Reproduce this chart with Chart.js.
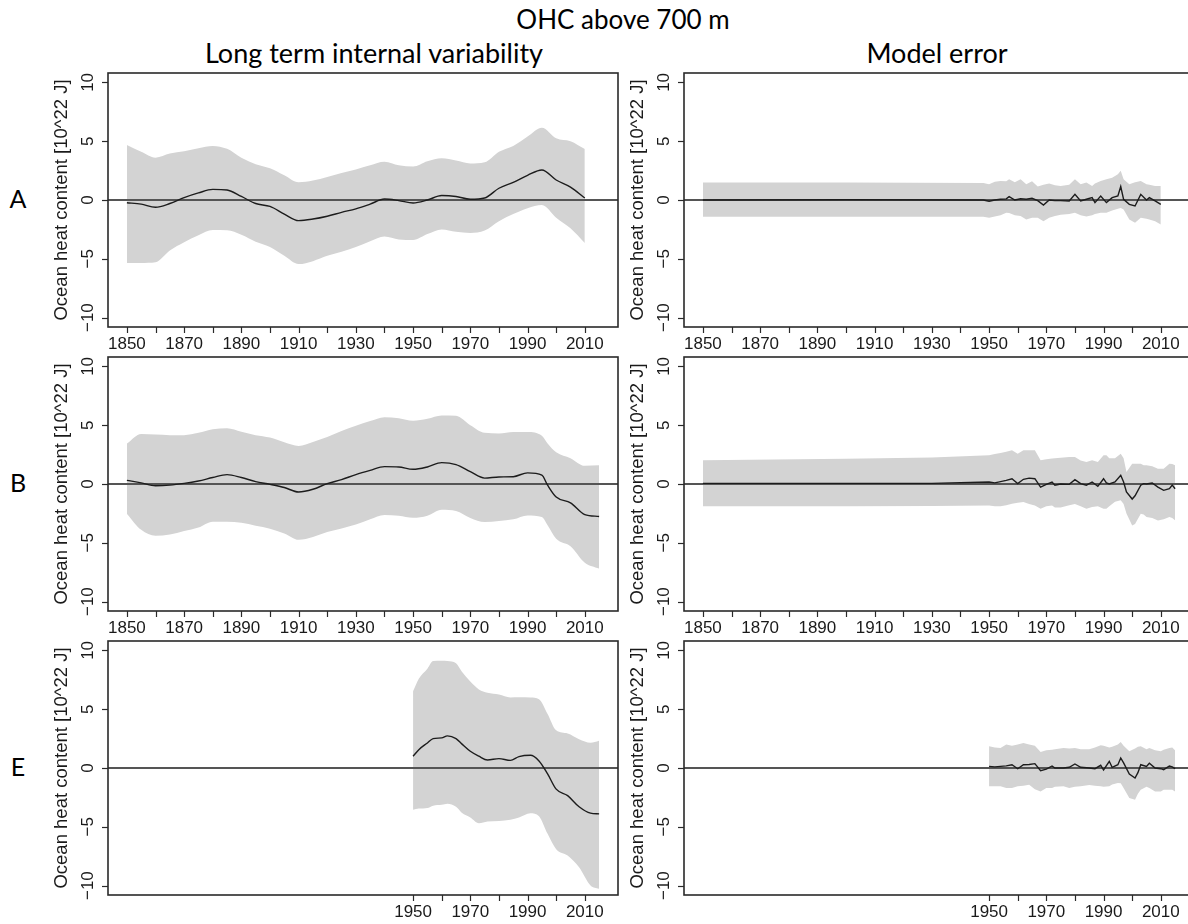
<!DOCTYPE html>
<html lang="en">
<head>
<meta charset="UTF-8">
<title>OHC above 700 m</title>
<script src="https://cdn.jsdelivr.net/npm/chart.js"></script>
<style>
    body {
        margin: 0;
        width: 1188px;
        height: 924px;
        overflow: hidden;
        position: relative;
        background: #fff;
        font-family: Lato, sans-serif;
    }
    .panel { position: absolute; }
    .txt { position: absolute; line-height: 1; white-space: nowrap; color: #000; }
</style>
</head>
<body>
<div class="txt" style="left:623px; top:6px; font-size:26px; transform:translateX(-50%)">OHC above 700 m</div>
<div class="txt" style="left:374px; top:39px; font-size:27px; transform:translateX(-50%)">Long term internal variability</div>
<div class="txt" style="left:937px; top:39px; font-size:27px; transform:translateX(-50%)">Model error</div>
<div class="txt" style="left:18px; top:186px; font-size:25px; transform:translateX(-50%)">A</div>
<div class="txt" style="left:18px; top:470px; font-size:25px; transform:translateX(-50%)">B</div>
<div class="txt" style="left:18px; top:754px; font-size:25px; transform:translateX(-50%)">E</div>

<div class="panel" style="left:0; top:61px; width:624px; height:294px"><canvas id="aLeft"></canvas></div>
<div class="panel" style="left:624px; top:61px; width:576px; height:294px"><canvas id="aRight"></canvas></div>
<div class="panel" style="left:0; top:345px; width:624px; height:294px"><canvas id="bLeft"></canvas></div>
<div class="panel" style="left:624px; top:345px; width:576px; height:294px"><canvas id="bRight"></canvas></div>
<div class="panel" style="left:0; top:629px; width:624px; height:294px"><canvas id="eLeft"></canvas></div>
<div class="panel" style="left:624px; top:629px; width:576px; height:294px"><canvas id="eRight"></canvas></div>

<script>
    // axis ticks
    const fullTicks = [1850, 1860, 1870, 1880, 1890, 1900, 1910, 1920, 1930, 1940, 1950, 1960, 1970, 1980, 1990, 2000, 2010];
    const fullLabels = [1850, 1870, 1890, 1910, 1930, 1950, 1970, 1990, 2010];
    const lateTicks = [1950, 1960, 1970, 1980, 1990, 2000, 2010];
    const lateLabels = [1950, 1970, 1990, 2010];
    const yTicks = [-10, -5, 0, 5, 10];
    const yTitle = 'Ocean heat content [10^22 J]';

    // A - long term internal variability
    const aLeftYears = [1850, 1855, 1860, 1865, 1870, 1875, 1880, 1885, 1890, 1895, 1900, 1905, 1910, 1915, 1920, 1925, 1930,
        1935, 1940, 1945, 1950, 1955, 1960, 1965, 1970, 1975, 1980, 1985, 1990, 1995, 2000, 2005, 2010];
    const aLeftMid = [-0.23, -0.35, -0.62, -0.3, 0.2, 0.6, 0.9, 0.85, 0.3, -0.3, -0.55, -1.2, -1.75, -1.62, -1.38, -1.05, -0.75,
        -0.35, 0.08, -0.05, -0.25, 0.0, 0.38, 0.3, 0.06, 0.17, 1.0, 1.5, 2.1, 2.55, 1.7, 1.1, 0.17];
    const aLeftUp = [4.67, 4.1, 3.6, 3.95, 4.15, 4.4, 4.6, 4.35, 3.6, 3.05, 2.7, 2.1, 1.5, 1.65, 1.95, 2.3, 2.6,
        2.95, 3.25, 2.95, 2.85, 3.3, 3.55, 3.35, 3.1, 3.2, 4.1, 4.6, 5.4, 6.15, 5.25, 5.0, 4.33];
    const aLeftLo = [-5.36, -5.36, -5.3, -4.3, -3.6, -3.0, -2.56, -2.58, -2.95, -3.55, -4.0, -4.75, -5.45, -5.2, -4.75, -4.4, -4.0,
        -3.5, -3.1, -3.35, -3.4, -2.9, -2.5, -2.7, -2.8, -2.6, -1.8, -1.2, -0.7, -0.43, -1.5, -2.4, -3.65];

    // B - long term internal variability
    const bLeftYears = [1850, 1855, 1860, 1865, 1870, 1875, 1880, 1885, 1890, 1895, 1900, 1905, 1910, 1915, 1920, 1925, 1930,
        1935, 1940, 1945, 1950, 1955, 1960, 1965, 1970, 1975, 1980, 1985, 1990, 1995, 1997, 2000, 2005, 2010, 2015];
    const bLeftMid = [0.31, 0.1, -0.15, -0.1, 0.05, 0.26, 0.55, 0.8, 0.55, 0.2, -0.03, -0.3, -0.68, -0.45, 0.03, 0.37, 0.8,
        1.16, 1.48, 1.45, 1.25, 1.45, 1.82, 1.65, 1.05, 0.5, 0.6, 0.62, 0.95, 0.75, -0.1, -1.11, -1.6, -2.6, -2.76];
    const bLeftUp = [3.44, 4.25, 4.2, 4.15, 4.15, 4.35, 4.65, 4.75, 4.45, 4.15, 3.95, 3.55, 3.24, 3.58, 4.0, 4.5, 4.95,
        5.35, 5.68, 5.6, 5.38, 5.55, 5.83, 5.8, 5.0, 4.35, 4.3, 4.42, 4.43, 4.1, 3.45, 2.7, 2.2, 1.55, 1.6];
    const bLeftLo = [-2.53, -3.9, -4.4, -4.3, -4.0, -3.7, -3.2, -3.2, -3.3, -3.55, -3.8, -4.2, -4.74, -4.5, -4.09, -3.78, -3.45,
        -3.0, -2.64, -2.7, -2.88, -2.7, -2.2, -2.3, -2.9, -3.24, -3.15, -3.0, -2.67, -2.8, -3.5, -4.66, -5.3, -6.7, -7.2];

    // E - long term internal variability
    const eLeftYears = [1950, 1952, 1955, 1957, 1960, 1962, 1965, 1967, 1970, 1973, 1976, 1980, 1984, 1987, 1991, 1994,
        1997, 2000, 2004, 2008, 2012, 2015];
    const eLeftMid = [1.0, 1.56, 2.13, 2.5, 2.56, 2.73, 2.5, 2.05, 1.42, 1.0, 0.68, 0.8, 0.65, 0.97, 1.08, 0.6,
        -0.5, -1.8, -2.35, -3.3, -3.84, -3.9];
    const eLeftUp = [6.53, 7.6, 8.45, 9.09, 9.12, 9.09, 8.9, 8.2, 7.35, 6.68, 6.4, 6.25, 6.0, 6.02, 6.0, 5.85,
        4.6, 3.2, 2.93, 2.45, 2.15, 2.33];
    const eLeftLo = [-3.55, -3.45, -3.4, -3.2, -3.13, -3.04, -3.3, -3.8, -4.2, -4.69, -4.55, -4.5, -4.4, -4.2, -3.84, -4.1,
        -5.6, -6.9, -7.45, -8.45, -10.0, -10.28];

    // A - model error
    const aRightYears = [1850, 1900, 1948, 1950, 1952, 1954, 1956, 1957, 1959, 1961, 1963, 1965, 1967, 1969, 1971, 1973, 1975,
        1978, 1980, 1982, 1984, 1986, 1987, 1989, 1991, 1993, 1995, 1996, 1997, 1999, 2001, 2003, 2005, 2006, 2008, 2010];
    const aRightMid = [0.0, 0.02, 0.0, -0.11, 0.0, 0.06, 0.1, 0.28, 0.0, 0.1, 0.06, 0.15, -0.05, -0.43, 0.0, -0.05, -0.05,
        -0.08, 0.48, -0.08, 0.06, 0.2, -0.22, 0.34, -0.22, 0.2, 0.34, 1.14, 0.06, -0.37, -0.51, 0.48, 0.0, 0.2, -0.08, -0.37];
    const aRightUp = [1.48, 1.48, 1.45, 1.34, 1.55, 1.62, 1.6, 1.77, 1.5, 1.77, 1.34, 1.6, 1.14, 1.3, 1.4, 1.25, 1.2,
        1.3, 1.77, 1.34, 1.48, 1.2, 1.4, 1.62, 1.77, 1.9, 2.2, 2.48, 1.77, 1.34, 1.5, 1.62, 1.34, 1.3, 1.2, 1.2];
    const aRightLo = [-1.42, -1.42, -1.42, -1.5, -1.4, -1.3, -1.08, -1.1, -1.3, -1.36, -1.65, -1.5, -1.5, -1.8, -1.5, -1.36, -1.25,
        -1.2, -1.08, -1.3, -1.4, -1.3, -1.2, -1.08, -1.08, -0.9, -0.74, -0.68, -0.8, -1.65, -1.94, -1.5, -1.6, -1.65, -1.8, -2.08];

    // B - model error
    const bRightYears = [1850, 1900, 1930, 1950, 1952, 1954, 1956, 1958, 1960, 1962, 1964, 1966, 1968, 1970, 1972, 1973, 1975,
        1978, 1980, 1982, 1984, 1986, 1988, 1990, 1991, 1992, 1994, 1996, 1997, 1998, 2000, 2001, 2003, 2004, 2005, 2007,
        2009, 2011, 2013, 2014, 2015];
    const bRightMid = [0.05, 0.05, 0.05, 0.17, 0.1, 0.2, 0.31, 0.45, 0.03, 0.4, 0.5, 0.45, -0.26, -0.03, 0.17, -0.1, 0.0,
        -0.03, 0.37, 0.03, -0.1, 0.17, -0.2, 0.45, 0.1, 0.0, 0.17, 0.74, 0.17, -0.68, -1.28, -1.0, -0.1, 0.03, 0.0, 0.09,
        -0.26, -0.54, -0.4, -0.1, -0.4];
    const bRightUp = [2.02, 2.15, 2.25, 2.44, 2.55, 2.64, 2.75, 2.87, 2.58, 2.87, 2.87, 2.87, 2.02, 2.1, 2.16, 2.2, 2.24,
        2.3, 2.3, 2.0, 1.88, 2.02, 1.88, 2.44, 2.44, 2.2, 2.2, 2.58, 2.2, 1.02, 1.73, 1.73, 1.73, 1.6, 1.6, 1.5,
        1.3, 1.3, 1.73, 1.7, 1.6];
    const bRightLo = [-1.9, -1.9, -1.88, -1.82, -1.9, -1.9, -1.8, -1.68, -1.6, -1.53, -1.7, -1.82, -2.1, -1.9, -1.82, -2.0, -2.0,
        -1.8, -1.7, -1.9, -2.1, -1.95, -1.9, -2.1, -2.1, -1.9, -1.5, -1.39, -1.7, -2.5, -3.52, -3.4, -2.53, -2.6, -2.81, -2.9,
        -3.1, -3.0, -2.8, -2.9, -3.1];

    // E - model error
    const eRightYears = [1950, 1952, 1954, 1956, 1958, 1960, 1962, 1964, 1966, 1968, 1970, 1972, 1973, 1976, 1978, 1980, 1982,
        1985, 1987, 1989, 1990, 1992, 1993, 1995, 1996, 1997, 1999, 2001, 2002, 2003, 2005, 2006, 2008, 2010, 2011, 2013,
        2014, 2015];
    const eRightMid = [0.14, 0.1, 0.14, 0.18, 0.28, -0.06, 0.28, 0.3, 0.37, -0.23, -0.1, 0.17, 0.0, 0.0, 0.06, 0.34, 0.06,
        0.0, -0.06, 0.23, -0.17, 0.57, 0.06, 0.28, 0.85, 0.43, -0.51, -0.85, -0.4, 0.28, 0.14, 0.4, 0.0, -0.06, -0.14, 0.17,
        0.1, -0.06];
    const eRightUp = [1.85, 1.75, 1.7, 1.99, 1.9, 1.99, 2.13, 2.0, 1.9, 1.36, 1.5, 1.56, 1.6, 1.7, 1.65, 1.7, 1.6,
        1.6, 1.75, 1.93, 1.9, 1.75, 1.8, 2.0, 2.22, 1.9, 1.42, 1.65, 1.8, 1.85, 1.6, 1.7, 1.5, 1.42, 1.55, 1.7,
        1.75, 1.5];
    const eRightLo = [-1.56, -1.56, -1.56, -1.7, -1.7, -1.56, -1.5, -1.42, -1.8, -1.99, -1.7, -1.7, -1.6, -1.56, -1.7, -1.6, -1.56,
        -1.45, -1.5, -1.56, -1.6, -1.56, -1.4, -1.28, -1.3, -1.7, -2.56, -2.7, -2.2, -1.85, -1.6, -1.7, -1.99, -1.99, -1.85, -1.85,
        -1.85, -2.0];

    const TICK_FONT = '17px "Liberation Sans", Arial, sans-serif';
    const TITLE_FONT = '18.5px "Liberation Sans", Arial, sans-serif';
    const AXIS_COLOR = '#2a2a2a';

    function pts(years, vals) {
        return years.map((yr, i) => ({ x: yr, y: vals[i] }));
    }

    // R-style box, ticks and labels, drawn from the chart's own scales
    const rAxes = {
        id: 'rAxes',
        afterDatasetDraw(chart, args) {
            if (args.index !== 1) return;
            const { ctx, chartArea: a, scales: { y } } = chart;
            const y0 = y.getPixelForValue(0);
            ctx.save();
            ctx.strokeStyle = '#555';
            ctx.lineWidth = 2;
            ctx.beginPath();
            ctx.moveTo(a.left, y0);
            ctx.lineTo(a.right, y0);
            ctx.stroke();
            ctx.restore();
        },
        afterDraw(chart, args, opts) {
            const { ctx, chartArea: a, scales: { x, y } } = chart;
            ctx.save();
            ctx.strokeStyle = AXIS_COLOR;
            ctx.fillStyle = '#1a1a1a';
            ctx.lineWidth = 1.6;
            ctx.strokeRect(a.left, a.top, a.right - a.left, a.bottom - a.top);

            ctx.lineWidth = 1.2;
            ctx.font = TICK_FONT;
            ctx.textAlign = 'center';
            ctx.textBaseline = 'middle';
            opts.xTicks.forEach(v => {
                const px = Math.round(x.getPixelForValue(v)) + 0.5;
                ctx.beginPath();
                ctx.moveTo(px, a.bottom);
                ctx.lineTo(px, a.bottom + 6);
                ctx.stroke();
            });
            opts.xLabels.forEach(v => {
                ctx.fillText(String(v), x.getPixelForValue(v), a.bottom + 17);
            });

            yTicks.forEach(v => {
                const py = Math.round(y.getPixelForValue(v)) + 0.5;
                ctx.beginPath();
                ctx.moveTo(a.left, py);
                ctx.lineTo(a.left - 6, py);
                ctx.stroke();
                ctx.save();
                ctx.translate(a.left - 20, y.getPixelForValue(v));
                ctx.rotate(-Math.PI / 2);
                ctx.fillText(v < 0 ? '\u2212' + Math.abs(v) : String(v), 0, 0);
                ctx.restore();
            });

            ctx.save();
            ctx.font = TITLE_FONT;
            ctx.translate(a.left - 46, (a.top + a.bottom) / 2);
            ctx.rotate(-Math.PI / 2);
            ctx.fillText(yTitle, 0, 0);
            ctx.restore();
            ctx.restore();
        }
    };

    function makeChart(id, side, years, mid, up, lo, xTicks, xLabels, smooth) {
        const shape = smooth ? { cubicInterpolationMode: 'monotone' } : { tension: 0 };
        const pad = side === 'left'
            ? { left: 108, right: 6, top: 12, bottom: 28 }
            : { left: 60, right: 6, top: 12, bottom: 28 };
        return new Chart(document.getElementById(id), {
            type: 'line',
            data: {
                datasets: [
                    Object.assign({ data: pts(years, mid), borderColor: '#1c1c1c', borderWidth: 1.4, pointRadius: 0, fill: false }, shape),
                    Object.assign({ data: pts(years, up), borderColor: 'transparent', backgroundColor: '#d3d3d3', pointRadius: 0, fill: '+1' }, shape),
                    Object.assign({ data: pts(years, lo), borderColor: 'transparent', pointRadius: 0, fill: false }, shape)
                ]
            },
            options: {
                responsive: true,
                maintainAspectRatio: false,
                animation: false,
                events: [],
                layout: { padding: pad },
                scales: {
                    x: { type: 'linear', min: 1843.4, max: 2021.6, display: false },
                    y: { min: -10.8, max: 10.8, display: false }
                },
                plugins: {
                    legend: { display: false },
                    tooltip: { enabled: false },
                    rAxes: { xTicks: xTicks, xLabels: xLabels }
                }
            },
            plugins: [rAxes]
        });
    }

    makeChart('aLeft', 'left', aLeftYears, aLeftMid, aLeftUp, aLeftLo, fullTicks, fullLabels, true);
    makeChart('bLeft', 'left', bLeftYears, bLeftMid, bLeftUp, bLeftLo, fullTicks, fullLabels, true);
    makeChart('eLeft', 'left', eLeftYears, eLeftMid, eLeftUp, eLeftLo, lateTicks, lateLabels, true);
    makeChart('aRight', 'right', aRightYears, aRightMid, aRightUp, aRightLo, fullTicks, fullLabels, false);
    makeChart('bRight', 'right', bRightYears, bRightMid, bRightUp, bRightLo, fullTicks, fullLabels, false);
    makeChart('eRight', 'right', eRightYears, eRightMid, eRightUp, eRightLo, lateTicks, lateLabels, false);
</script>
</body>
</html>
